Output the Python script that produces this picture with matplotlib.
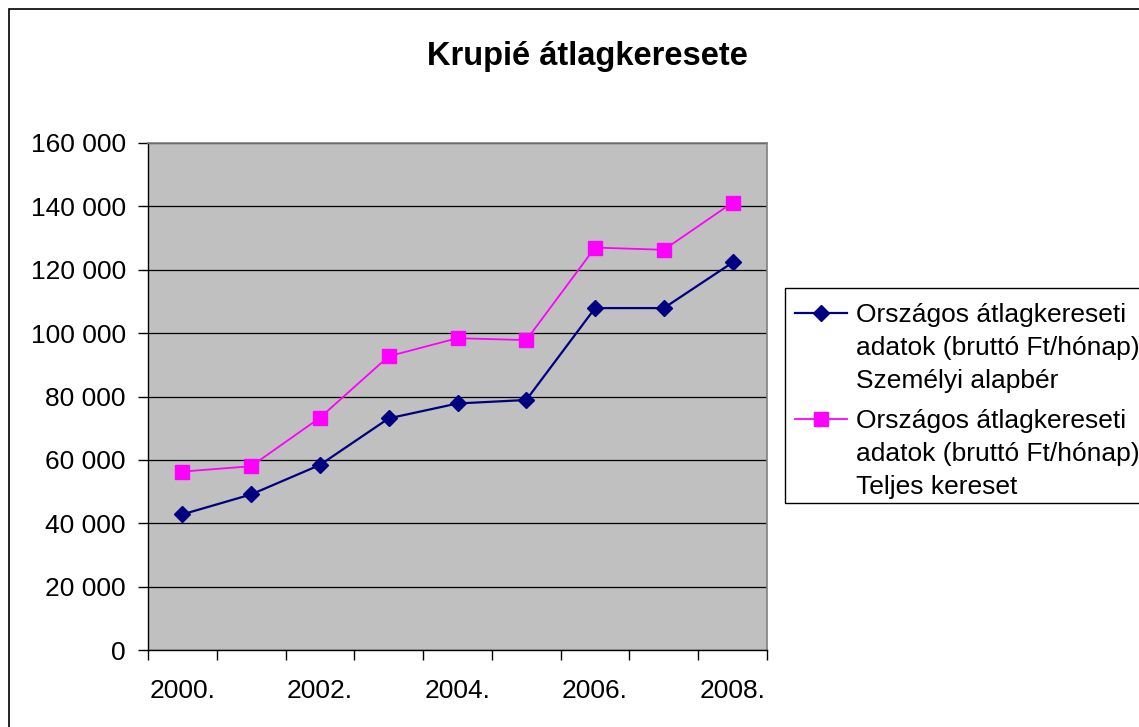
import matplotlib
matplotlib.use("Agg")
import matplotlib.pyplot as plt
from matplotlib.lines import Line2D
from matplotlib.patches import Rectangle
from matplotlib.ticker import FuncFormatter, FixedLocator

plt.rcParams['font.family'] = ['Liberation Sans', 'DejaVu Sans']

# Adatok
years = ['2000.', '2001.', '2002.', '2003.', '2004.', '2005.', '2006.', '2007.', '2008.']
alapber = [42800, 49100, 58400, 73100, 77800, 78900, 107900, 107900, 122300]
teljes = [56300, 58000, 73300, 92700, 98400, 97800, 127000, 126300, 141200]
label_alapber = ['Országos átlagkereseti', 'adatok (bruttó Ft/hónap)', 'Személyi alapbér']
label_teljes = ['Országos átlagkereseti', 'adatok (bruttó Ft/hónap)', 'Teljes kereset']
title = 'Krupié átlagkeresete'

W, H = 1139, 727
fig = plt.figure(figsize=(W / 100, H / 100), dpi=100)


def fx(px):
    return px / W


def fy(py):
    return 1 - py / H


# külső keret
fig.patches.append(Rectangle((fx(9), fy(H + 20)), fx(W + 20) - fx(9), fy(9) - fy(H + 20),
                             transform=fig.transFigure, fill=False,
                             edgecolor='black', linewidth=1.2))

ax = fig.add_axes([fx(148), fy(650), fx(767) - fx(148), fy(143) - fy(650)])
ax.set_facecolor('#C0C0C0')

x = list(range(len(years)))
ax.plot(x, alapber, color='#000080', linewidth=1.6, marker='D', markersize=8.2,
        markerfacecolor='#000080', markeredgecolor='#000080', zorder=3)
ax.plot(x, teljes, color='#FF00FF', linewidth=1.3, marker='s', markersize=10.5,
        markerfacecolor='#FF00FF', markeredgecolor='#FF00FF', zorder=3)

ax.set_xlim(-0.5, len(years) - 0.5)
ax.set_ylim(0, 160000)
ax.set_yticks(range(0, 160001, 20000))
ax.yaxis.set_major_formatter(FuncFormatter(lambda v, p: f"{int(v):,}".replace(',', ' ')))
ax.grid(axis='y', color='black', linewidth=0.9)
ax.set_axisbelow(True)

# x tengely: osztásjelek a kategóriák határán, feliratok minden második évnél
ax.xaxis.set_major_locator(FixedLocator([i - 0.5 for i in range(len(years) + 1)]))
ax.xaxis.set_major_formatter(FuncFormatter(lambda v, p: ''))
ax.xaxis.set_minor_locator(FixedLocator(x[::2]))
ax.set_xticklabels(years[::2], minor=True)
ax.tick_params(axis='x', which='major', length=7, width=1, color='black')
ax.tick_params(axis='x', which='minor', length=0, pad=21, labelsize=19)
ax.tick_params(axis='y', length=7, width=1, pad=9, labelsize=19)

for s in ['left', 'bottom']:
    ax.spines[s].set_color('black')
    ax.spines[s].set_linewidth(1)
for s in ['top', 'right']:
    ax.spines[s].set_color('#808080')
    ax.spines[s].set_linewidth(1.2)

fig.text(fx(587), fy(57), title, ha='center', va='center', fontsize=23.5, fontweight='bold')

# jelmagyarázat
fig.patches.append(Rectangle((fx(785), fy(503)), fx(W + 20) - fx(785), fy(288) - fy(503),
                             transform=fig.transFigure, facecolor='white',
                             edgecolor='black', linewidth=1.0))
entries = [
    (label_alapber, '#000080', 'D', 8.2, 1.6, 322),
    (label_teljes, '#FF00FF', 's', 10.5, 1.3, 428),
]
for lines, col, mk, ms, lw, base in entries:
    ym = base - 9
    fig.add_artist(Line2D([fx(795), fx(847)], [fy(ym), fy(ym)], transform=fig.transFigure,
                          color=col, linewidth=lw))
    fig.add_artist(Line2D([fx(821)], [fy(ym)], transform=fig.transFigure, color=col,
                          marker=mk, markersize=ms, markerfacecolor=col, markeredgecolor=col))
    for i, t in enumerate(lines):
        fig.text(fx(856), fy(base + 33 * i), t, ha='left', va='baseline', fontsize=19)

fig.savefig('out.png', dpi=100)
